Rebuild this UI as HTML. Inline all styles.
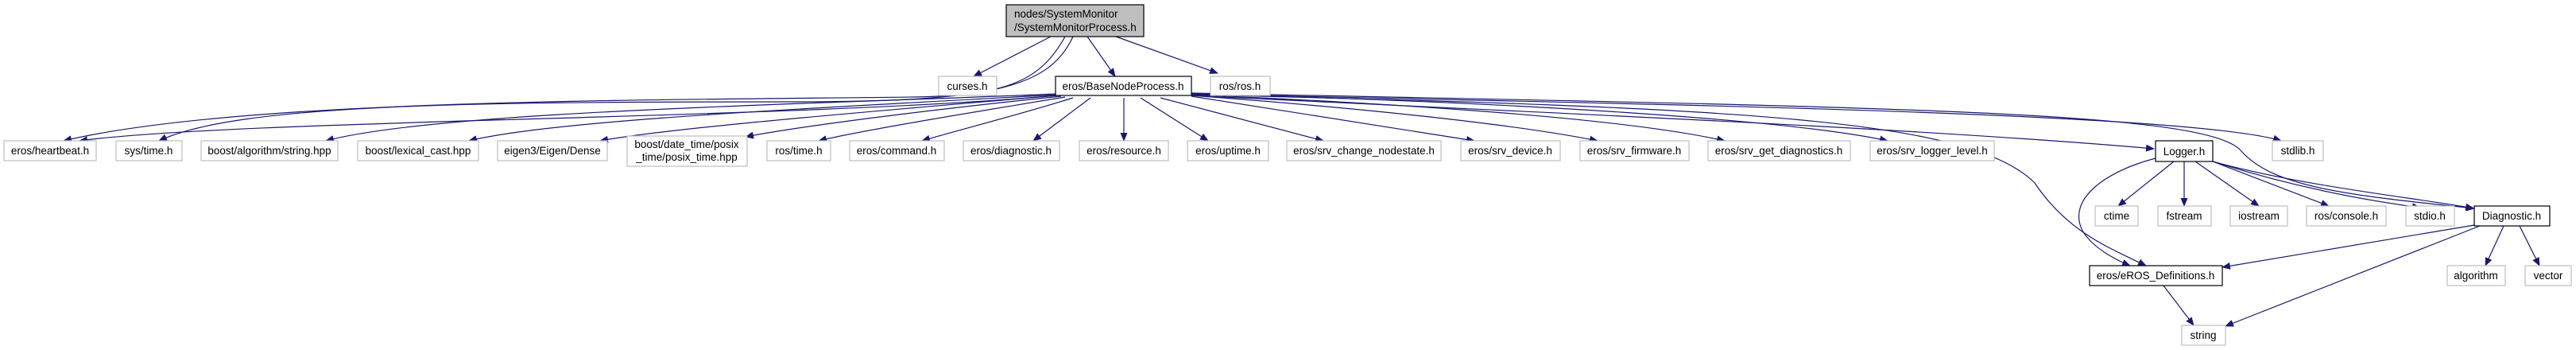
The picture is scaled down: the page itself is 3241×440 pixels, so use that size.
<!DOCTYPE html>
<html><head><meta charset="utf-8"><style>
html,body{margin:0;padding:0;background:#fff;width:3241px;height:440px;overflow:hidden}
text{font-family:"Liberation Sans",sans-serif;font-size:13.5px;fill:#000}
</style></head><body>
<svg width="3241" height="440" viewBox="0 0 3241 440" xmlns="http://www.w3.org/2000/svg">
<defs><marker id="a" markerWidth="11" markerHeight="9" refX="10" refY="4.5" orient="auto" markerUnits="userSpaceOnUse"><path d="M0,0 L11,4.5 L0,9z" fill="#191970"/></marker></defs>
<g fill="none" stroke="#191970" stroke-width="1.2" marker-end="url(#a)">
<path d="M1322,46 L1225,96"/>
<path d="M1368,46 L1403,96"/>
<path d="M1404,46 L1532,92"/>
<path d="M1340,46 C1310,100 1270,120 1150,122 C800,126 300,125 80,177"/>
<path d="M1350,46 C1320,110 1250,128 1000,128 C600,128 300,130 200,177"/>
<path d="M1330,120 C1000,150 300,150 100,177"/>
<path d="M1330,118 C1000,132 550,140 410,177"/>
<path d="M1330,119 C1050,135 700,150 590,177"/>
<path d="M1330,120 C1100,140 850,160 755,177"/>
<path d="M1335,121 C1150,140 1000,160 938,172"/>
<path d="M1340,122 C1200,145 1080,165 1030,177"/>
<path d="M1350,123 C1280,145 1200,165 1160,177"/>
<path d="M1372,123 L1300,177"/>
<path d="M1414,123 L1414,177"/>
<path d="M1435,123 L1520,177"/>
<path d="M1460,123 L1665,177"/>
<path d="M1499,121 L1855,177"/>
<path d="M1499,120 C1700,135 1900,155 2010,177"/>
<path d="M1499,119 C1800,132 2050,150 2170,177"/>
<path d="M1499,118 C1900,128 2250,150 2375,177"/>
<path d="M1499,120 C1900,140 2400,160 2710,187"/>
<path d="M1499,118 C2000,130 2750,140 2870,177"/>
<path d="M1499,117 C2400,135 2780,140 2820,190 C2860,235 2950,245 3113,262"/>
<path d="M1499,119 C2200,135 2480,150 2560,230 C2600,290 2650,310 2700,334"/>
<path d="M2735,203 L2665,259"/>
<path d="M2748,203 L2748,259"/>
<path d="M2762,203 L2842,259"/>
<path d="M2784,203 L2930,259"/>
<path d="M2784,203 C2900,240 3000,255 3045,261"/>
<path d="M2784,203 C2900,235 3050,250 3112,262"/>
<path d="M2712,199 C2650,215 2600,250 2620,290 C2635,315 2670,330 2680,334"/>
<path d="M3113,283 L2796,336"/>
<path d="M3120,284 L2800,410"/>
<path d="M3150,284 L3127,334"/>
<path d="M3170,284 L3195,334"/>
<path d="M2722,359 L2760,409"/>
</g>
<g stroke-width="1.2">
<rect x="1266" y="6" width="173" height="40" fill="#bfbfbf" stroke="#000"/>
<text x="1276" y="22">nodes/SystemMonitor</text><text x="1276" y="39">/SystemMonitorProcess.h</text>
<g fill="#fff" stroke="#bfbfbf">
<rect x="1181" y="96" width="73" height="24"/><rect x="1523" y="96" width="75" height="24"/>
<rect x="5" y="177" width="116" height="25"/><rect x="146" y="177" width="83" height="25"/>
<rect x="253" y="177" width="172" height="25"/><rect x="450" y="177" width="152" height="25"/>
<rect x="626" y="177" width="138" height="25"/><rect x="789" y="171" width="151" height="38"/>
<rect x="965" y="177" width="80" height="25"/><rect x="1069" y="177" width="119" height="25"/>
<rect x="1212" y="177" width="121" height="25"/><rect x="1358" y="177" width="112" height="25"/>
<rect x="1494" y="177" width="102" height="25"/><rect x="1619" y="177" width="194" height="25"/>
<rect x="1838" y="177" width="125" height="25"/><rect x="1988" y="177" width="137" height="25"/>
<rect x="2149" y="177" width="179" height="25"/><rect x="2353" y="177" width="156" height="25"/>
<rect x="2859" y="177" width="64" height="25"/>
<rect x="2636" y="259" width="54" height="25"/><rect x="2715" y="259" width="67" height="25"/>
<rect x="2806" y="259" width="72" height="25"/><rect x="2902" y="259" width="100" height="25"/>
<rect x="3027" y="259" width="61" height="25"/>
<rect x="3079" y="334" width="73" height="25"/><rect x="3177" y="334" width="58" height="25"/>
<rect x="2745" y="409" width="55" height="25"/>
</g>
<g fill="#fff" stroke="#000">
<rect x="1328" y="96" width="171" height="24"/>
<rect x="2712" y="177" width="72" height="26"/>
<rect x="3113" y="259" width="95" height="25"/>
<rect x="2629" y="334" width="167" height="25"/>
</g>
</g>
<g text-anchor="middle">
<text x="1217" y="113">curses.h</text><text x="1413" y="113">eros/BaseNodeProcess.h</text><text x="1560" y="113">ros/ros.h</text>
<text x="63" y="194">eros/heartbeat.h</text><text x="187" y="194">sys/time.h</text>
<text x="339" y="194">boost/algorithm/string.hpp</text><text x="526" y="194">boost/lexical_cast.hpp</text>
<text x="695" y="194">eigen3/Eigen/Dense</text>
<text x="864" y="186">boost/date_time/posix</text><text x="864" y="202">_time/posix_time.hpp</text>
<text x="1005" y="194">ros/time.h</text><text x="1128" y="194">eros/command.h</text>
<text x="1272" y="194">eros/diagnostic.h</text><text x="1414" y="194">eros/resource.h</text>
<text x="1545" y="194">eros/uptime.h</text><text x="1716" y="194">eros/srv_change_nodestate.h</text>
<text x="1900" y="194">eros/srv_device.h</text><text x="2056" y="194">eros/srv_firmware.h</text>
<text x="2238" y="194">eros/srv_get_diagnostics.h</text><text x="2431" y="194">eros/srv_logger_level.h</text>
<text x="2748" y="195">Logger.h</text><text x="2891" y="194">stdlib.h</text>
<text x="2663" y="276">ctime</text><text x="2748" y="276">fstream</text><text x="2842" y="276">iostream</text>
<text x="2952" y="276">ros/console.h</text><text x="3057" y="276">stdio.h</text><text x="3160" y="276">Diagnostic.h</text>
<text x="2712" y="351">eros/eROS_Definitions.h</text><text x="3115" y="351">algorithm</text><text x="3206" y="351">vector</text>
<text x="2772" y="426">string</text>
</g>
</svg>
</body></html>
